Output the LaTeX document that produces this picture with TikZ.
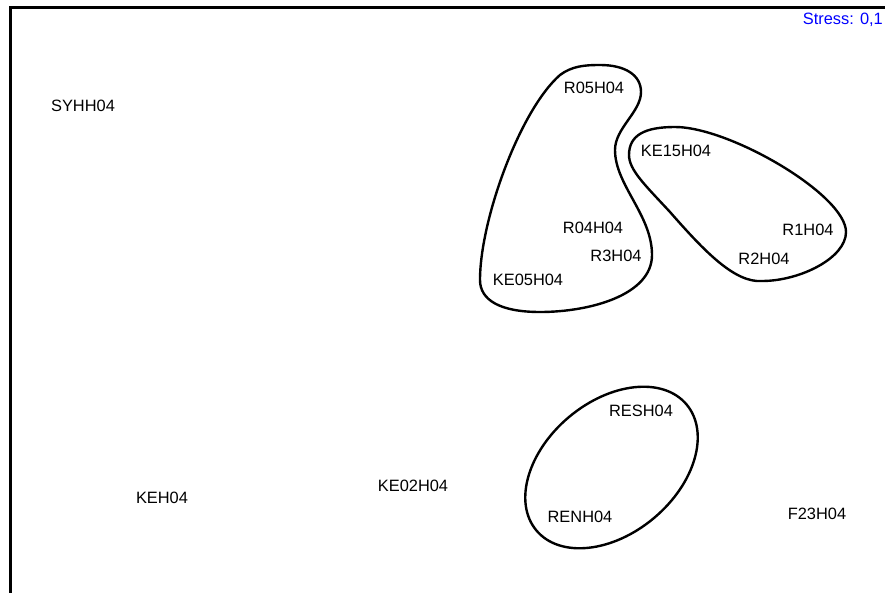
\documentclass[tikz,border=0pt]{standalone}
\usepackage{fontspec}
\setmainfont{Liberation Sans}
\begin{document}
\begin{tikzpicture}[x=1pt,y=-1pt,
    site/.style={inner sep=0pt,font=\fontsize{16.4}{19}\selectfont},
    group/.style={line width=2.4pt,line join=round},
    axis/.style={line width=3pt},
    ]
    \useasboundingbox (0,0) rectangle (885,593);
    \draw[axis] (10,593) -- (10,8) -- (885,8);
    \node[site,text=blue,anchor=east] (stress) at (883,20) {Stress: 0,1};
    % sites
    \node[site] (syhh) at (83,106) {SYHH04};
    \node[site] (r05) at (594,88) {R05H04};
    \node[site] (ke15) at (676,151) {KE15H04};
    \node[site] (r04) at (593,228) {R04H04};
    \node[site] (r3) at (616,256) {R3H04};
    \node[site] (ke05) at (528,280) {KE05H04};
    \node[site] (r1) at (808,230) {R1H04};
    \node[site] (r2) at (764,259) {R2H04};
    \node[site] (resh) at (641,411) {RESH04};
    \node[site] (renh) at (580,517) {RENH04};
    \node[site] (keh) at (162,498) {KEH04};
    \node[site] (ke02) at (413,486) {KE02H04};
    \node[site] (f23) at (817,514) {F23H04};
    % groups
    \draw[group] (600,65) .. controls (625,65) and (641,75) .. (641,92)
        .. controls (641,112) and (615,128) .. (615,150)
        .. controls (615,185) and (652,215) .. (652,255)
        .. controls (652,295) and (590,312) .. (540,312)
        .. controls (500,312) and (480,300) .. (480,280)
        .. controls (480,220) and (520,110) .. (560,75)
        .. controls (572,66) and (585,65) .. cycle;
    \draw[group] (629,155) .. controls (629,135) and (645,127) .. (675,127)
        .. controls (730,127) and (846,195) .. (846,232)
        .. controls (846,258) and (800,281) .. (762,281)
        .. controls (735,283) and (705,252) .. (670,212)
        .. controls (645,185) and (629,170) .. cycle;
    \draw[group,rotate around={40:(611.5,467.5)}] (611.5,467.5)
        ellipse [x radius=98, y radius=66];
\end{tikzpicture}
\end{document}
